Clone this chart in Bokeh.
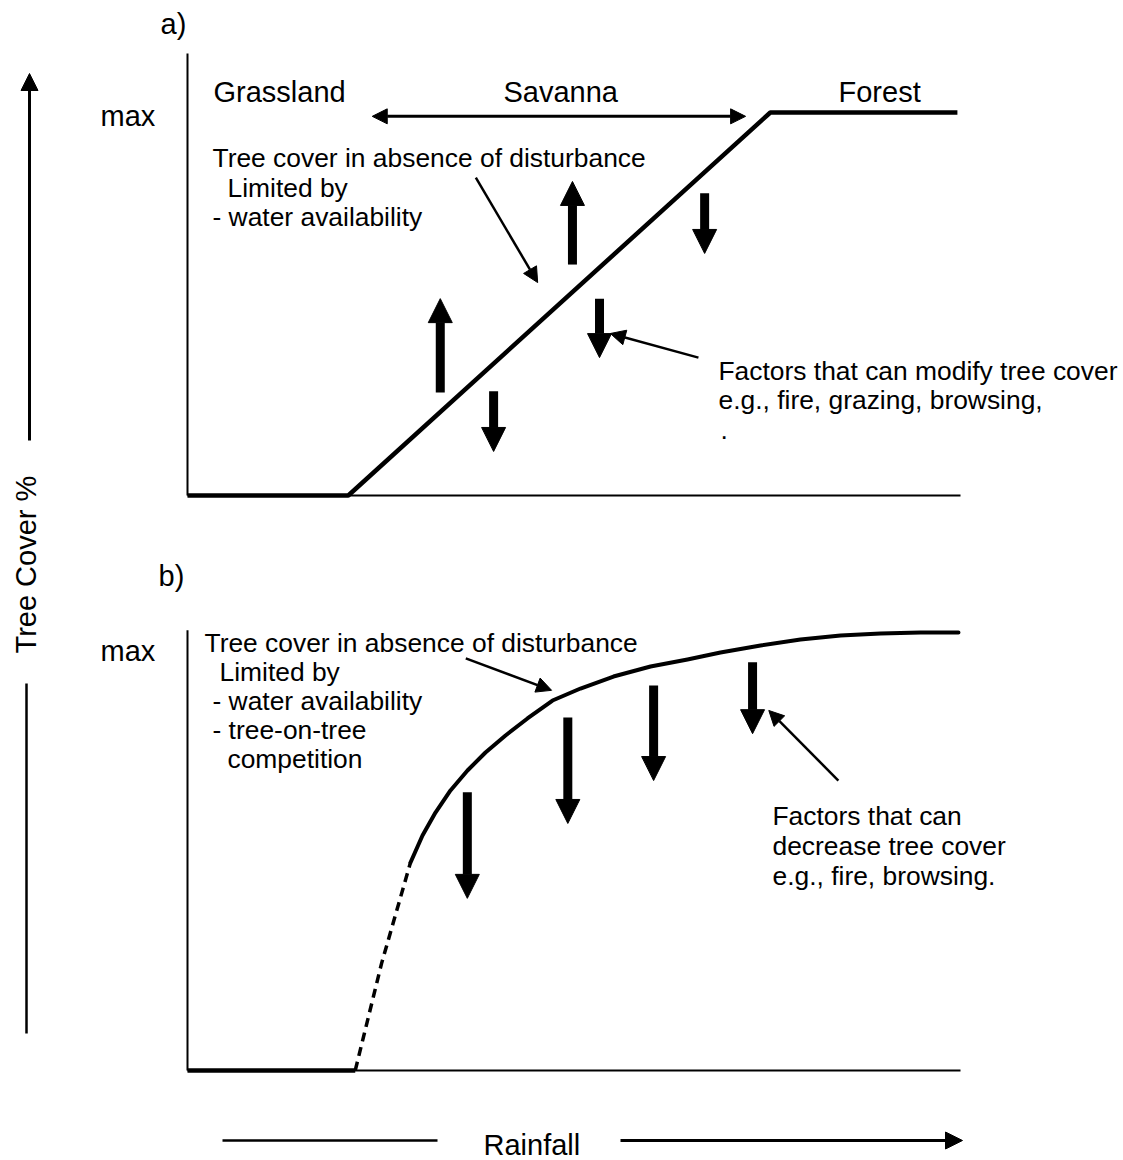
import math
from bokeh.plotting import figure
from bokeh.models import Range1d, Arrow, NormalHead, ColumnDataSource
from bokeh.embed import file_html
from bokeh.resources import INLINE
from bokeh.core.properties import value

FONT = "Liberation Sans"

# ---------------- data (panel units: rainfall 0-100, tree cover 0-100 = "max") ----------------
# panel a: piecewise response of tree cover to rainfall
rain_a = [0, 20.8, 75.4, 99.6]
cover_a = [0, 0, 100, 100]

# panel b: grassland floor, uncertain (dashed) rise, saturating curve
rain_b_flat = [0, 21.7]
cover_b_flat = [0, 0]
rain_b_dash = [21.7, 25.1, 28.85]
cover_b_dash = [0, 24.4, 47.5]
rain_b = [28.85, 30.4, 32.08, 34.02, 36.22, 38.55, 41.14, 43.98, 47.22, 50.84, 55.11, 59.9,
          64.68, 68.95, 74.13, 79.3, 84.48, 89.65, 94.83, 99.74]
cover_b = [47.5, 53.65, 58.9, 63.93, 68.49, 72.6, 76.48, 80.37, 84.47, 87.21, 89.95, 92.24,
           93.84, 95.43, 97.03, 98.4, 99.32, 99.77, 100, 100]

# disturbance arrows: rainfall position, start cover, end cover
arr_a_x = [32.7, 49.8, 66.9, 53.3, 39.6]
arr_a_from = [26.9, 60.3, 78.9, 51.4, 27.2]
arr_a_to = [51.4, 82.0, 63.2, 36.0, 11.5]

arr_b_x = [36.2, 49.2, 60.3, 73.1]
arr_b_from = [63.5, 80.6, 87.9, 93.2]
arr_b_to = [39.3, 56.4, 66.2, 76.9]

# pointer arrows (x0, y0, x1, y1) in panel units
ptr_a = [(37.3, 83.0, 45.3, 55.6), (66.1, 36.0, 54.7, 42.3)]
ptr_b = [(36.0, 94.1, 47.1, 86.8), (84.2, 66.2, 75.2, 82.2)]
savanna_span = (23.9, 72.2, 99.0)

# text labels (text, x px, visual baseline px, font px)
labels = [
    ("a)", 160, 33, 29), ("max", 100, 125, 29),
    ("Grassland", 213, 101, 29), ("Savanna", 503, 101, 29), ("Forest", 838, 101, 29),
    ("Tree cover in absence of disturbance", 212, 167, 26.4),
    ("Limited by", 227, 197, 26.4),
    ("- water availability", 212, 226, 26.4),
    ("Factors that can modify tree cover", 718, 380, 26.4),
    ("e.g., fire, grazing, browsing,", 718, 409, 26.4),
    (".", 720, 439, 26.4),
    ("b)", 158, 585, 29), ("max", 100, 660, 29),
    ("Tree cover in absence of disturbance", 204, 652, 26.4),
    ("Limited by", 219, 681, 26.4),
    ("- water availability", 212, 710, 26.4),
    ("- tree-on-tree", 212, 739, 26.4),
    ("competition", 227, 768, 26.4),
    ("Factors that can", 772, 825, 26.4),
    ("decrease tree cover", 772, 855, 26.4),
    ("e.g., fire, browsing.", 772, 885, 26.4),
    ("Rainfall", 483, 1154, 29),
]
BASE_FIX = -10  # renderer places the alphabetic baseline slightly lower

# ---------------- figure: base range = page pixels ----------------
W, H = 1123, 1160
p = figure(width=W, height=H, x_range=Range1d(0, W), y_range=Range1d(H, 0),
           output_backend="svg", toolbar_location=None, min_border=0,
           x_axis_location=None, y_axis_location=None)
p.grid.visible = False
p.outline_line_color = None
p.background_fill_color = "white"


def lin(v0, p0, v1, p1):
    return lambda px: v0 + (px - p0) * (v1 - v0) / (p1 - p0)


rain_of = lin(0, 187, 100, 960)
cov_a_of = lin(0, 495, 100, 112)
cov_b_of = lin(0, 1070, 100, 632)
p.extra_x_ranges = {"rain": Range1d(rain_of(0), rain_of(W))}
p.extra_y_ranges = {"a": Range1d(cov_a_of(H), cov_a_of(0)),
                    "b": Range1d(cov_b_of(H), cov_b_of(0))}

# panel frames (left and bottom axis lines)
p.segment(x0=[0, 0], y0=[0, 0], x1=[0, 100], y1=[115.4, 0], x_range_name="rain", y_range_name="a",
          line_color="black", line_width=2)
p.segment(x0=[0, 0], y0=[0, 0], x1=[0, 100], y1=[100.5, 0], x_range_name="rain", y_range_name="b",
          line_color="black", line_width=2)

# curves
p.line(rain_a, cover_a, x_range_name="rain", y_range_name="a", line_color="black", line_width=4.5)
p.line(rain_b_flat, cover_b_flat, x_range_name="rain", y_range_name="b", line_color="black", line_width=4.5)
p.line(rain_b_dash, cover_b_dash, x_range_name="rain", y_range_name="b", line_color="black",
       line_width=3.5, line_dash="9 6")
p.line(rain_b, cover_b, x_range_name="rain", y_range_name="b", line_color="black", line_width=4,
       line_join="round", line_cap="round")


def block_arrows(xs, y0s, y1s, yname):
    for x, y0, y1 in zip(xs, y0s, y1s):
        p.add_layout(Arrow(end=NormalHead(size=24, fill_color="black", line_color="black", line_width=1),
                           x_start=x, y_start=y0, x_end=x, y_end=y1, line_width=9, line_color="black",
                           x_range_name="rain", y_range_name=yname))


block_arrows(arr_a_x, arr_a_from, arr_a_to, "a")
block_arrows(arr_b_x, arr_b_from, arr_b_to, "b")


def pointers(lst, yname):
    for x0, y0, x1, y1 in lst:
        p.add_layout(Arrow(end=NormalHead(size=15, fill_color="black", line_color="black", line_width=1),
                           x_start=x0, y_start=y0, x_end=x1, y_end=y1, line_width=2.5, line_color="black",
                           x_range_name="rain", y_range_name=yname))


pointers(ptr_a, "a")
pointers(ptr_b, "b")

sx0, sx1, sy = savanna_span
p.add_layout(Arrow(start=NormalHead(size=15, fill_color="black", line_color="black", line_width=1),
                   end=NormalHead(size=15, fill_color="black", line_color="black", line_width=1),
                   x_start=sx0, y_start=sy, x_end=sx1, y_end=sy, line_width=3, line_color="black",
                   x_range_name="rain", y_range_name="a"))

# outer axis labels (page pixels)
p.add_layout(Arrow(end=NormalHead(size=17, fill_color="black", line_color="black", line_width=1),
                   x_start=29, y_start=440, x_end=29, y_end=73, line_width=3, line_color="black"))
p.segment(x0=[26], y0=[683], x1=[26], y1=[1033], line_color="black", line_width=2.5)
p.segment(x0=[222], y0=[1140], x1=[437], y1=[1140], line_color="black", line_width=2.5)
p.add_layout(Arrow(end=NormalHead(size=17, fill_color="black", line_color="black", line_width=1),
                   x_start=620, y_start=1140, x_end=962, y_end=1140, line_width=3, line_color="black"))

src = ColumnDataSource(dict(text=[l[0] for l in labels], x=[l[1] for l in labels],
                            y=[l[2] + BASE_FIX for l in labels], size=["%spx" % l[3] for l in labels]))
p.text(x="x", y="y", text="text", source=src, text_font=value(FONT), text_font_size="size",
       text_align="left", text_baseline="alphabetic", text_color="black")

p.text(x=[35 + BASE_FIX], y=[653], text=["Tree Cover %"], angle=math.pi / 2, text_font=value(FONT),
       text_font_size="29px", text_align="left", text_baseline="alphabetic", text_color="black")

open("out.html", "w").write(file_html(p, INLINE))
